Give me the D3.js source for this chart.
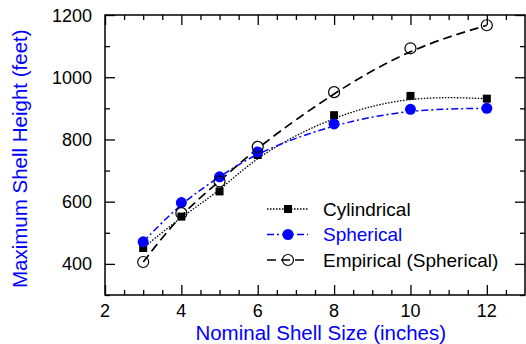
<!DOCTYPE html>
<html>
<head>
<meta charset="utf-8">
<script src="https://cdn.jsdelivr.net/npm/d3@7"></script>
<style>
  body { margin: 0; background: #fff; }
  svg { display: block; font-family: Arial, "Liberation Sans", sans-serif; }
</style>
</head>
<body>
<svg id="chart" width="526" height="344"></svg>
<script>
// shell sizes (inches)
const sizes = [3, 4, 5, 6, 8, 10, 12];
// maximum shell heights (feet)
const cylindrical = [451, 552, 633, 750, 878, 940, 931];
const spherical = [471, 597, 680, 760, 850, 897, 900];
const empirical = [406, 563, 665, 776, 952, 1093, 1167];

const xTicks = [2, 4, 6, 8, 10, 12];
const yTicks = [400, 600, 800, 1000, 1200];

const seriesNames = ["Cylindrical", "Spherical", "Empirical (Spherical)"];

const margin = { top: 15, right: 1, bottom: 49, left: 105 };
const width = 526 - margin.left - margin.right;
const height = 344 - margin.top - margin.bottom;

const svg = d3.select("#chart")
    .append("g")
    .attr("transform", `translate(${margin.left},${margin.top})`);

const x = d3.scaleLinear().domain([2, 13]).range([0, width]);
const y = d3.scaleLinear().domain([300, 1200]).range([height, 0]);

// inward ticks on all four sides (negative size = inside the frame)
const xMinor = d3.range(2.5, 13, 0.5).filter(v => v % 2 !== 0);
const yMinor = d3.range(300, 1200, 100).filter(v => v % 200 !== 0);

function tickSet(g, axis, scale, major, minor) {
    g.append("g").call(axis(scale).tickValues(major).tickSizeInner(-10).tickSizeOuter(0).tickFormat(""));
    g.append("g").call(axis(scale).tickValues(minor).tickSizeInner(-5).tickSizeOuter(0).tickFormat(""));
}

const axBottom = svg.append("g").attr("transform", `translate(0,${height})`);
tickSet(axBottom, d3.axisBottom, x, xTicks, xMinor);
const axTop = svg.append("g");
tickSet(axTop, d3.axisTop, x, xTicks, xMinor);
const axLeft = svg.append("g");
tickSet(axLeft, d3.axisLeft, y, yTicks, yMinor);
const axRight = svg.append("g").attr("transform", `translate(${width},0)`);
tickSet(axRight, d3.axisRight, y, yTicks, yMinor);

svg.selectAll(".domain").remove();
svg.selectAll(".tick line").attr("stroke", "#000").attr("stroke-width", 1.3);

// frame
svg.append("rect")
    .attr("width", width).attr("height", height)
    .attr("fill", "none").attr("stroke", "#000").attr("stroke-width", 1.5);

// tick labels
svg.selectAll(".xlab").data(xTicks).enter().append("text")
    .attr("x", d => x(d)).attr("y", height + 22)
    .attr("text-anchor", "middle").attr("font-size", "18px")
    .text(d => d);
svg.selectAll(".ylab").data(yTicks).enter().append("text")
    .attr("x", -13).attr("y", d => y(d) + 6.5)
    .attr("text-anchor", "end").attr("font-size", "18px")
    .text(d => d);

// axis titles
svg.append("text")
    .attr("x", x(7.65)).attr("y", height + 45)
    .attr("text-anchor", "middle").attr("font-size", "20.5px").attr("fill", "#0000ff")
    .text("Nominal Shell Size (inches)");
svg.append("text")
    .attr("transform", `translate(${27 - margin.left},${y(738)}) rotate(-90)`)
    .attr("text-anchor", "middle").attr("font-size", "20.5px").attr("fill", "#0000ff")
    .text("Maximum Shell Height (feet)");

const line = d3.line().curve(d3.curveBasis).x(d => x(d[0])).y(d => y(d[1]));
const zip = vals => sizes.map((s, i) => [s, vals[i]]);

const styles = [
    { vals: cylindrical, color: "#000", dash: "1.5,1.5", width: 1.3, marker: "square" },
    { vals: spherical, color: "#0000ff", dash: "7,3,2,3", width: 1.5, marker: "disc" },
    { vals: empirical, color: "#000", dash: "9,5", width: 1.7, marker: "ring" }
];

function drawMarker(g, type, cx, cy) {
    if (type === "square") {
        g.append("rect").attr("x", cx - 4).attr("y", cy - 4)
            .attr("width", 8).attr("height", 8).attr("fill", "#000");
    } else if (type === "disc") {
        g.append("circle").attr("cx", cx).attr("cy", cy).attr("r", 5.5).attr("fill", "#0000ff");
    } else {
        g.append("circle").attr("cx", cx).attr("cy", cy).attr("r", 5.5)
            .attr("fill", "none").attr("stroke", "#000").attr("stroke-width", 1.2);
    }
}

styles.forEach(s => {
    svg.append("path").datum(zip(s.vals))
        .attr("d", line).attr("fill", "none")
        .attr("stroke", s.color).attr("stroke-width", s.width)
        .attr("stroke-dasharray", s.dash);
});
styles.forEach(s => {
    const g = svg.append("g");
    zip(s.vals).forEach(d => drawMarker(g, s.marker, x(d[0]), y(d[1])));
});

// legend
const legend = svg.append("g").attr("transform", `translate(${267 - margin.left},${209 - margin.top})`);
styles.forEach((s, i) => {
    const row = legend.append("g").attr("transform", `translate(0,${i * 25.5})`);
    row.append("line").attr("x1", 0).attr("x2", 41).attr("y1", 0).attr("y2", 0)
        .attr("stroke", s.color).attr("stroke-width", s.width).attr("stroke-dasharray", s.dash);
    drawMarker(row, s.marker, 21, 0);
    row.append("text").attr("x", 56).attr("y", 6.5)
        .attr("font-size", "19px").attr("fill", s.color === "#0000ff" ? "#0000ff" : "#000")
        .text(seriesNames[i]);
});
</script>
</body>
</html>
